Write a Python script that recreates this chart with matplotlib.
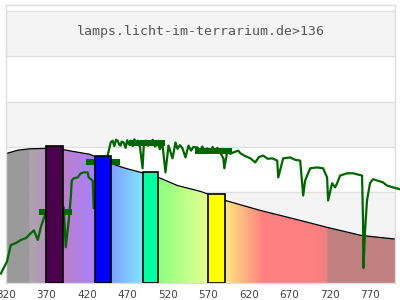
import matplotlib
matplotlib.use("Agg")
import matplotlib.pyplot as plt
import numpy as np

# lamp spectrum (nm, relative intensity)
lamp_nm = [313.7, 321.1, 326.0, 332.2, 338.4, 344.5, 350.7, 354.4, 359.3, 363.0, 366.7, 369.2,
           391.3, 393.8, 397.5, 400.0, 401.2, 403.7, 408.6, 412.3, 416.0, 420.9, 422.1, 427.1, 428.3,
           445.6, 449.3, 451.7, 453.9, 455.9, 457.9, 459.9, 461.6, 462.8, 465.3, 467.7, 469.7, 471.7, 473.9,
           476.6, 478.6, 480.6, 482.5, 485.5, 488.7, 490.4, 492.4, 495.3, 498.5, 501.3, 504.2, 507.2, 510.1, 513.1,
           517.0, 520.7, 523.0, 525.7, 529.4, 531.8, 534.8, 538.0, 541.7, 545.4, 548.6, 551.5, 556.5,
           559.4, 562.4, 565.3, 568.8, 572.2, 575.2, 578.2, 581.1, 585.1, 588.5, 589.7, 593.4, 596.9, 600.8,
           607.0, 609.5, 615.6, 621.8, 627.9, 632.4, 637.8, 643.2, 648.9, 655.0, 656.3, 662.4,
           671.1, 676.7, 683.4, 687.1, 689.5, 695.7, 704.3, 711.7, 716.6, 717.9, 722.8, 726.5,
           729.0, 732.7, 741.3, 748.7, 759.8, 761.0, 761.5, 763.5, 765.9, 769.6, 773.3, 785.6, 790.6,
           798.0, 806.6]
lamp_val = [0.21, 0.47, 0.84, 0.88, 0.95, 0.99, 1.10, 1.16, 0.95, 1.23, 1.43, 1.54,
            1.67, 0.79, 1.38, 1.89, 2.26, 2.31, 2.33, 2.42, 2.44, 2.44, 2.33, 2.26, 1.65,
            2.81, 3.10, 3.14, 3.02, 3.16, 3.14, 3.05, 3.03, 3.12, 3.10, 2.98, 3.15, 3.06, 3.14,
            3.02, 3.17, 3.08, 3.14, 3.00, 2.53, 3.12, 3.14, 3.03, 3.10, 3.16, 3.01, 3.10, 2.95, 3.08,
            2.44, 3.03, 2.90, 2.75, 3.10, 2.96, 3.04, 2.97, 2.77, 3.03, 2.92, 3.00, 2.99,
            2.90, 3.01, 2.93, 2.97, 2.88, 3.00, 2.91, 2.98, 2.86, 2.75, 2.53, 2.92, 2.85, 2.88,
            2.92, 2.86, 2.80, 2.75, 2.66, 2.78, 2.81, 2.74, 2.75, 2.70, 2.33, 2.75,
            2.77, 2.72, 2.70, 1.93, 2.26, 2.53, 2.55, 2.53, 2.33, 1.82, 2.20, 2.11,
            2.20, 2.37, 2.42, 2.42, 2.37, 1.38, 0.33, 1.16, 1.82, 2.20, 2.29, 2.22, 2.15,
            2.11, 2.07]

# reference curve on top of the colour band
ref_nm = [321.1, 334.7, 349.4, 369.2, 388.9, 403.7, 423.4, 449.0, 467.7, 486.4, 508.1, 531.8,
          560.4, 591.0, 634.4, 683.7, 716.2, 758.6, 800.5]
ref_val = [2.86, 2.93, 2.96, 2.97, 2.95, 2.90, 2.84, 2.64, 2.53, 2.44, 2.33, 2.15, 2.02, 1.82,
           1.60, 1.38, 1.23, 1.05, 0.97]

# bands
bar_left = [370, 430, 489, 569]
bar_right = [390, 450, 508, 590]
bar_val = [3.02, 2.80, 2.44, 1.96]
bar_colors = ["#4b004b", "#0000ff", "#00ffa0", "#ffff00"]

# lamp average per band
avg_left = [360.5, 418.5, 471.5, 554]
avg_right = [401, 460.5, 517, 599.5]
avg_val = [1.57, 2.67, 3.08, 2.91]

# colour band stops
stop_nm = [321.1, 348.1, 348.2, 390, 429, 450, 489, 508, 511, 569, 590, 593, 638, 696, 716.2, 716.3, 800.5]
stop_col = ["#9a9a9a", "#9a9a9a", "#aca6ac", "#bc80c8", "#a880ff", "#80a0ff", "#80e8ff", "#88ffa0",
            "#90ff80", "#e8ff90", "#ffe890", "#ffe080", "#ff8080", "#ff8080", "#f08080", "#c08080", "#c08080"]

ticks = [320, 370, 420, 470, 520, 570, 620, 670, 720, 770]
title = "lamps.licht-im-terrarium.de>136"


def main():
  fig = plt.figure(figsize=(4, 3), dpi=100)
  ax = fig.add_axes([6 / 400, 17 / 300, 389 / 400, 278 / 300])
  xmin, xmax = 321.1, 800.5
  ymax = 278 / 45.33
  ax.set_xlim(xmin, xmax)
  ax.set_ylim(0, ymax)

  # alternating bands
  for k in range(7):
    if k % 2 == 1:
      ax.axhspan(k, k + 1, color="#f4f4f4", zorder=0, lw=0)
    ax.axhline(k, color="#e0e0e0", lw=1, zorder=0.5)

  # colour band clipped under the reference curve
  rgb = np.array([matplotlib.colors.to_rgb(c) for c in stop_col])
  xs = np.linspace(xmin, xmax, 800)
  img = np.stack([np.interp(xs, stop_nm, rgb[:, i]) for i in range(3)], axis=-1)[None, :, :]
  poly = ax.fill_between(ref_nm, 0, ref_val, color="none", lw=0)
  im = ax.imshow(img, extent=[xmin, xmax, 0, 3.1], aspect="auto", zorder=1, interpolation="bilinear")
  im.set_clip_path(poly.get_paths()[0], transform=ax.transData)
  ax.plot(ref_nm, ref_val, color="black", lw=0.9, zorder=2)

  ax.plot(lamp_nm, lamp_val, color="#006400", lw=1.6, zorder=3, clip_on=False)
  ax.hlines(avg_val, avg_left, avg_right, color="#006400", lw=4.3, zorder=3)

  widths = np.array(bar_right) - np.array(bar_left)
  ax.bar(bar_left, bar_val, width=widths, align="edge", color=bar_colors,
         edgecolor="black", linewidth=1.2, zorder=4)

  ax.text((xmin + xmax) / 2, 5.55, title, ha="center", va="center",
          family="DejaVu Sans Mono", fontsize=9.5, color="#555555")

  ax.set_yticks([])
  ax.set_xticks(ticks)
  ax.set_xticklabels([str(t) for t in ticks], fontsize=7.5, color="#444444")
  ax.tick_params(axis="x", length=0, pad=5)
  for s in ax.spines.values():
    s.set_color("#dddddd")
    s.set_linewidth(1)

  fig.savefig("out.png", dpi=100)


if __name__ == '__main__':
  main()
